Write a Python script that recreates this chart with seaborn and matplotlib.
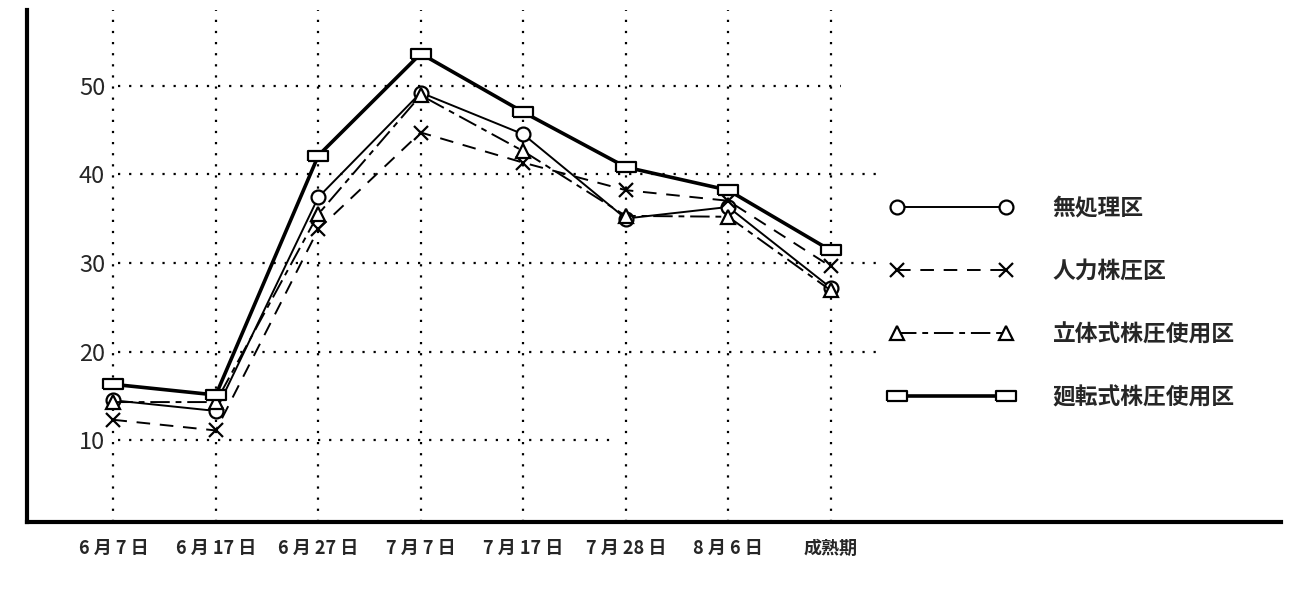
import numpy as np
import pandas as pd
import matplotlib
matplotlib.use("Agg")
import matplotlib.pyplot as plt
import seaborn as sns

# x categories (survey dates) and y ticks
dates = ["6 月 7 日", "6 月 17 日", "6 月 27 日", "7 月 7 日", "7 月 17 日", "7 月 28 日", "8 月 6 日", "成熟期"]
y_ticks = [10, 20, 30, 40, 50]

# series values
mushori = [14.5, 13.3, 37.4, 49.2, 44.5, 35.0, 36.3, 27.2]      # 無処理区
jinryoku = [12.3, 11.1, 33.8, 44.7, 41.3, 38.2, 37.0, 29.6]     # 人力株圧区
rittai = [14.3, 14.3, 35.5, 48.9, 42.6, 35.3, 35.2, 26.9]       # 立体式株圧使用区
kaiten = [16.3, 15.1, 42.1, 53.6, 47.0, 40.8, 38.2, 31.4]       # 廻転式株圧使用区

series_names = ["無処理区", "人力株圧区", "立体式株圧使用区", "廻転式株圧使用区"]

sns.set_theme(style="white")
plt.rcParams["font.family"] = ["Noto Sans CJK JP", "DejaVu Sans"]

pos = np.arange(len(dates))
df = pd.DataFrame({
    "pos": np.tile(pos, 4),
    "value": mushori + jinryoku + rittai + kaiten,
    "series": np.repeat(series_names, len(dates)),
})

rect = [(-1.6, -0.75), (1.6, -0.75), (1.6, 0.75), (-1.6, 0.75), (-1.6, -0.75)]
styles = {
    "無処理区": dict(ls="-", lw=1.4, marker="o", ms=10),
    "人力株圧区": dict(ls=(0, (7, 5)), lw=1.4, marker="x", ms=10),
    "立体式株圧使用区": dict(ls=(0, (10, 3, 3, 3)), lw=1.4, marker="^", ms=10),
    "廻転式株圧使用区": dict(ls="-", lw=2.6, marker=rect, ms=14),
}

fig = plt.figure(figsize=(13, 5.97), dpi=100)
ax = fig.add_axes([0.021, 0.126, 0.964, 0.857])

dot = (0, (1, 4))
# grid: vertical lines at each date, horizontal at each tick
ax.vlines(pos, 0.8, 58.5, colors="black", linestyles=[dot], lw=1.6, zorder=1)
h_ends = [4.85, 7.5, 7.5, 7.5, 7.1]
for yv, xe in zip(y_ticks, h_ends):
    ax.hlines(yv, 0.05, xe, colors="black", linestyles=[dot], lw=1.6, zorder=1)

for name in series_names:
    st = styles[name]
    sub = df[df["series"] == name]
    sns.lineplot(data=sub, x="pos", y="value", ax=ax, color="black",
                 linestyle=st["ls"], linewidth=st["lw"], marker=st["marker"],
                 markersize=st["ms"], markerfacecolor="white",
                 markeredgecolor="black", markeredgewidth=1.6,
                 label=name, zorder=3)

ax.set_xlim(-0.84, 11.39)
ax.set_ylim(0.8, 58.5)
ax.set_xticks(pos)
ax.set_xticklabels(dates, fontsize=13, fontweight="bold")
ax.set_yticks(y_ticks)
ax.set_yticklabels([str(v) for v in y_ticks], fontsize=17)
ax.tick_params(axis="y", length=0, pad=-56)
ax.tick_params(axis="x", length=0, pad=12)
ax.set_xlabel("")
ax.set_ylabel("")

for side in ["top", "right"]:
    ax.spines[side].set_visible(False)
for side in ["left", "bottom"]:
    ax.spines[side].set_color("black")
    ax.spines[side].set_linewidth(3)

leg = ax.legend(loc="upper left", bbox_to_anchor=(0.672, 0.675), frameon=False,
                numpoints=2, handlelength=5.4, handletextpad=1.75,
                labelspacing=1.76, prop={"size": 16.4, "weight": "bold"})

fig.savefig("out.png", dpi=100, facecolor="white")
